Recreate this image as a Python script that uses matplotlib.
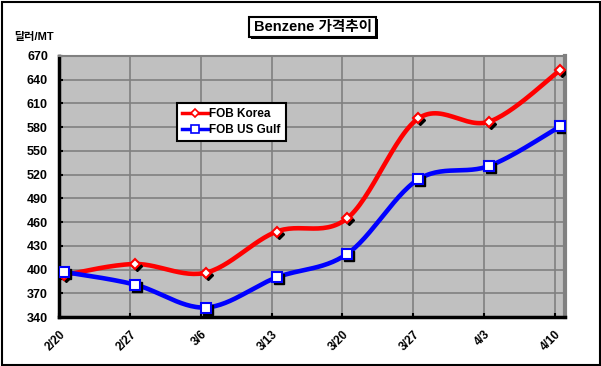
import numpy as np
import matplotlib
matplotlib.use('Agg')
import matplotlib.pyplot as plt
from matplotlib import transforms
from matplotlib.patches import Rectangle

plt.rcParams['font.family'] = ['Liberation Sans', 'Noto Sans CJK KR', 'DejaVu Sans']

dates = ['2/20', '2/27', '3/6', '3/13', '3/20', '3/27', '4/3', '4/10']
fob_korea = [393, 407, 396, 448, 465, 591, 587, 652]
fob_usgulf = [397, 381, 352, 390, 420, 514, 531, 581]
yticks = list(range(340, 671, 30))


def smooth(xs, ys, n=30):
    # catmull-rom style smoothing like excel "smoothed line"
    p = np.column_stack([xs, ys]).astype(float)
    p = np.vstack([p[0], p, p[-1]])
    out = []
    for i in range(1, len(p) - 2):
        p0, p1, p2, p3 = p[i - 1], p[i], p[i + 1], p[i + 2]
        c1 = p1 + (p2 - p0) / 6
        c2 = p2 - (p3 - p1) / 6
        t = np.linspace(0, 1, n)[:, None]
        seg = ((1 - t) ** 3) * p1 + 3 * ((1 - t) ** 2) * t * c1 + 3 * (1 - t) * t ** 2 * c2 + t ** 3 * p2
        out.append(seg if i == 1 else seg[1:])
    out = np.vstack(out)
    return out[:, 0], out[:, 1]


W, H = 601, 366
fig = plt.figure(figsize=(W / 100, H / 100), dpi=100)
ax = fig.add_axes([59 / W, 1 - 317 / H, 506 / W, 261 / H])
ax.set_facecolor('#c0c0c0')

x = np.arange(len(dates))
off = 0.07
ax.set_xlim(-off, len(dates) - 1 + off)
ax.set_ylim(340, 670)

for xv in x[1:]:
    ax.axvline(xv - off, color='#808080', lw=1.2, zorder=1)
for yv in yticks[1:]:
    ax.axhline(yv, color='#808080', lw=1.2, zorder=1)

series = [
    (fob_korea, 'FOB Korea', 'red', 'D', 5.5),
    (fob_usgulf, 'FOB US Gulf', 'blue', 's', 7),
]
shadow = transforms.offset_copy(ax.transData, fig=fig, x=2, y=-2, units='dots')
for vals, name, col, mk, ms in series:
    sx, sy = smooth(x, vals)
    ax.plot(sx, sy, color=col, lw=3.3, zorder=3, solid_capstyle='round')
    ax.plot(x, vals, ls='none', marker=mk, ms=ms, color='black', transform=shadow, zorder=4)
    ax.plot(x, vals, ls='none', marker=mk, ms=ms, mfc='white', mec=col, mew=1.5, zorder=5)
    ax.plot([], [], color=col, lw=2.5, marker=mk, ms=ms - 1.5, mfc='white', mec=col, mew=1.2, label=name)

for s in ['left', 'bottom']:
    ax.spines[s].set_color('black')
    ax.spines[s].set_linewidth(2.5)
ax.spines['top'].set_color('#808080')
ax.spines['top'].set_linewidth(1.5)
ax.spines['right'].set_color('#808080')
ax.spines['right'].set_linewidth(3)

ax.set_yticks(yticks)
ax.set_yticklabels([str(v) for v in yticks], fontsize=9, fontweight='bold')
ax.set_xticks(x - off)
ax.set_xticklabels(dates, fontsize=8.5, fontweight='bold', rotation=45,
                   ha='right', va='top', rotation_mode='anchor')
ax.tick_params(axis='both', direction='in', length=3, width=1.5, color='black')
ax.tick_params(axis='y', pad=8)
ax.tick_params(axis='x', pad=8)

leg = ax.legend(loc='upper left', bbox_to_anchor=((177 - 59) / 506, (317 - 103) / 261),
                fancybox=False, framealpha=1, edgecolor='black', handlelength=2.2,
                handletextpad=0.15, borderpad=0.4, borderaxespad=0, labelspacing=0.4,
                prop={'weight': 'bold', 'size': 8.5})
leg.get_frame().set_linewidth(1.5)

# title box with shadow
fig.patches.append(Rectangle((251 / W, 1 - 39 / H), 127 / W, 20 / H, transform=fig.transFigure,
                             facecolor='black', edgecolor='none', zorder=0))
fig.patches.append(Rectangle((249 / W, 1 - 37 / H), 127 / W, 20 / H, transform=fig.transFigure,
                             facecolor='white', edgecolor='black', lw=1.5, zorder=1))
fig.text(312.5 / W, 1 - 27 / H, 'Benzene 가격추이', ha='center', va='center',
         fontsize=10.5, fontweight='bold', zorder=2)
fig.text(14 / W, 1 - 37 / H, '달러/MT', ha='left', va='center', fontsize=8, fontweight='bold')

fig.patches.append(Rectangle((1.5 / W, 1.5 / H), (W - 3) / W, (H - 3) / H, transform=fig.transFigure,
                             facecolor='none', edgecolor='black', lw=1.5))

fig.savefig('out.png', dpi=100)
